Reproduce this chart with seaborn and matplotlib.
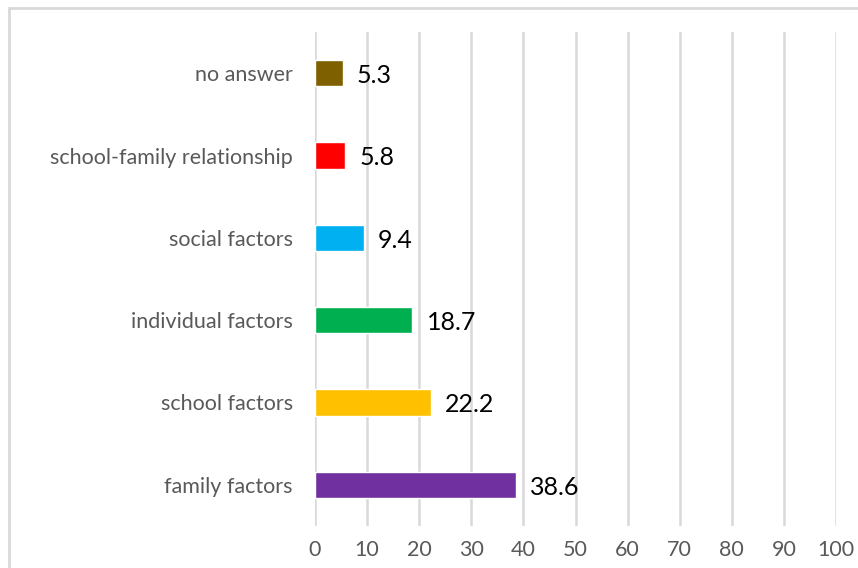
import matplotlib
matplotlib.use("Agg")
import matplotlib.pyplot as plt
from matplotlib.patches import Rectangle
import seaborn as sns
import pandas as pd

categories = ["no answer", "school-family relationship", "social factors",
              "individual factors", "school factors", "family factors"]
values = [5.3, 5.8, 9.4, 18.7, 22.2, 38.6]
colors = ["#7F6000", "#FF0000", "#00B0F0", "#00B050", "#FFC000", "#7030A0"]
x_ticks = [0, 10, 20, 30, 40, 50, 60, 70, 80, 90, 100]

sns.set_theme(style="white")
plt.rcParams["font.family"] = ["Lato", "DejaVu Sans"]

df = pd.DataFrame({"category": categories, "value": values})

W, H = 858, 568
fig = plt.figure(figsize=(W / 100, H / 100), dpi=100)
ax = fig.add_axes([315 / W, 1 - 526 / H, (836 - 315) / W, (526 - 32) / H])

sns.barplot(data=df, y="category", x="value", hue="category",
            palette=colors, order=categories, hue_order=categories,
            width=0.32, legend=False, ax=ax, saturation=1)

ax.set_xlim(0, 100)
ax.set_ylim(len(categories) - 0.5, -0.5)
ax.set_xticks(x_ticks)
ax.grid(axis="x", color="#d9d9d9", linewidth=1.8)
ax.set_axisbelow(True)
for s in ax.spines.values():
    s.set_visible(False)
ax.set_xlabel("")
ax.set_ylabel("")
ax.tick_params(axis="both", length=0, colors="#595959", labelsize=15.5)
ax.tick_params(axis="y", pad=16)
ax.tick_params(axis="x", pad=10)

for i, v in enumerate(values):
    ax.text(v + 2.7, i + 0.03, f"{v}", va="center", ha="left",
            fontsize=18, color="#000000")

# Outer chart frame
fig.patches.append(Rectangle((9 / W, -0.05), 1.0, 1 - 8 / H + 0.05,
                             transform=fig.transFigure, fill=False,
                             edgecolor="#d9d9d9", linewidth=2))

fig.savefig("out.png", dpi=100, facecolor="white")
